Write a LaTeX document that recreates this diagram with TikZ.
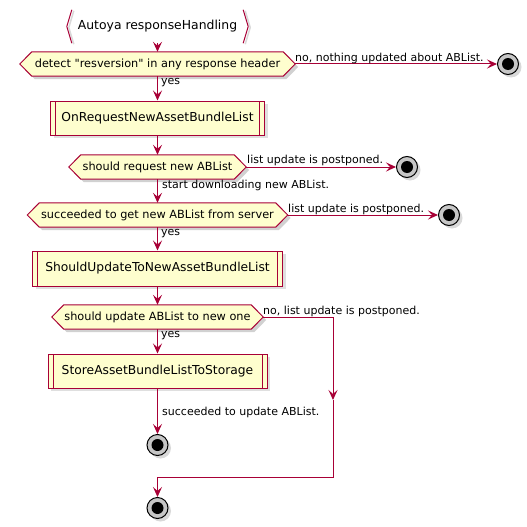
\documentclass[tikz,border=0pt]{standalone}
\usepackage{fontspec}
\setmainfont{DejaVu Sans}[Ligatures=TeXOff]
\usetikzlibrary{arrows.meta,calc,shadows,backgrounds}
\definecolor{bordc}{HTML}{A80036}
\definecolor{fillc}{HTML}{FEFECE}
\tikzset{
  hexn/.style={inner sep=0pt, minimum height=24pt, font=\fontsize{11.3}{13}\selectfont},
  hexc/.style={draw=bordc, fill=fillc, line width=1pt},
  shadowc/.style={fill=black, opacity=0.18},
  boxn/.style={draw=bordc, fill=fillc, line width=1pt, minimum height=34pt, inner sep=0pt,
    font=\fontsize{12.3}{14}\selectfont,
    drop shadow={shadow xshift=3pt, shadow yshift=-3pt, opacity=0.25},
    path picture={\draw[bordc, line width=1pt]
      ([xshift=5pt]path picture bounding box.north west) -- ([xshift=5pt]path picture bounding box.south west)
      ([xshift=-5pt]path picture bounding box.north east) -- ([xshift=-5pt]path picture bounding box.south east);}},
  endn/.style={circle, draw=black, line width=1pt, fill=gray!45, minimum size=21pt, inner sep=0pt,
    drop shadow={shadow xshift=3pt, shadow yshift=-3pt, opacity=0.3},
    path picture={\fill[black] (path picture bounding box.center) circle (6pt);}},
  lbl/.style={inner sep=0pt, anchor=west, font=\fontsize{11}{13}\selectfont},
  arr/.style={draw=bordc, line width=1pt, -{Stealth[length=10pt,width=9pt,inset=4pt]}},
  ln/.style={draw=bordc, line width=1pt},
}
\newcommand\hexbg[1]{%
  \begin{pgfonlayer}{background}
  \fill[shadowc] ($(#1.west)+(3,3)$) -- ($(#1.north west)+(15,3)$) -- ($(#1.north east)+(-9,3)$) -- ($(#1.east)+(3,3)$) -- ($(#1.south east)+(-9,3)$) -- ($(#1.south west)+(15,3)$) -- cycle;
  \filldraw[hexc] (#1.west) -- ($(#1.north west)+(12,0)$) -- ($(#1.north east)+(-12,0)$) -- (#1.east) -- ($(#1.south east)+(-12,0)$) -- ($(#1.south west)+(12,0)$) -- cycle;
  \end{pgfonlayer}}
\begin{document}
\begin{tikzpicture}[x=1pt,y=-1pt]
\useasboundingbox (0,0) rectangle (527,527);
% title
\node[inner sep=0pt, minimum width=181pt, minimum height=33pt, font=\fontsize{12.4}{14}\selectfont] (t) at (157.5,26.5) {Autoya responseHandling};
\draw[gray!30, line width=1.5pt] ($(t.north west)+(7,1)$) -- ($(t.west)+(2,1)$) -- ($(t.south west)+(7,1)$)
  ($(t.north east)+(-3,1)$) -- ($(t.east)+(2,1)$) -- ($(t.south east)+(-3,1)$);
\draw[ln] ($(t.north west)+(5,0)$) -- (t.west) -- ($(t.south west)+(5,0)$)
  ($(t.north east)+(-5,0)$) -- (t.east) -- ($(t.south east)+(-5,0)$);

% nodes
\node[hexn, minimum width=275pt] (h1) at (157.5,64) {detect "resversion" in any response header};
\hexbg{h1}
\node[endn] (e1) at (508,64) {};
\node[boxn, minimum width=214pt] (b1) at (157.5,118) {OnRequestNewAssetBundleList};
\node[hexn, minimum width=177pt] (h2) at (157.5,167) {should request new ABList};
\hexbg{h2}
\node[endn] (e2) at (407,167) {};
\node[hexn, minimum width=260pt] (h3) at (157.5,215) {succeeded to get new ABList from server};
\hexbg{h3}
\node[endn] (e3) at (449,215) {};
\node[boxn, minimum width=250pt, minimum height=35pt] (b2) at (157.5,268.5) {ShouldUpdateToNewAssetBundleList};
\node[hexn, minimum width=211pt] (h4) at (157.5,317) {should update ABList to new one};
\hexbg{h4}
\node[boxn, minimum width=219pt] (b3) at (157.5,371) {StoreAssetBundleListToStorage};
\node[endn] (e4) at (157.5,445) {};
\node[endn] (e5) at (157.5,508) {};
\coordinate (m1) at (333,400);
\coordinate (c2) at (333,477);
\coordinate (c3) at (157.5,477);

% connectors
\draw[arr] (t.south) -- (h1.north);
\draw[arr] (h1.east) -- (e1);
\draw[arr] (h1) -- (b1);
\draw[arr] (b1) -- (h2);
\draw[arr] (h2.east) -- (e2);
\draw[arr] (h2) -- (h3);
\draw[arr] (h3.east) -- (e3);
\draw[arr] (h3) -- (b2);
\draw[arr] (b2) -- (h4);
\draw[arr] (h4) -- (b3);
\draw[arr] (b3) -- (e4);
\draw[arr] (h4.east) -| (m1);
\draw[ln] (m1) -- (c2) -- (c3);
\draw[arr] (c3) -- (e5);

% labels
\node[lbl] (l1) at (295,58) {no, nothing updated about ABList.};
\node[lbl] (l2) at (161,83) {yes};
\node[lbl] (l3) at (247,160) {list update is postponed.};
\node[lbl] (l4) at (162,185) {start downloading new ABList.};
\node[lbl] (l5) at (288,209) {list update is postponed.};
\node[lbl] (l6) at (161,234) {yes};
\node[lbl] (l7) at (263,311) {no, list update is postponed.};
\node[lbl] (l8) at (161,336) {yes};
\node[lbl] (l9) at (162,412) {succeeded to update ABList.};
\end{tikzpicture}
\end{document}
